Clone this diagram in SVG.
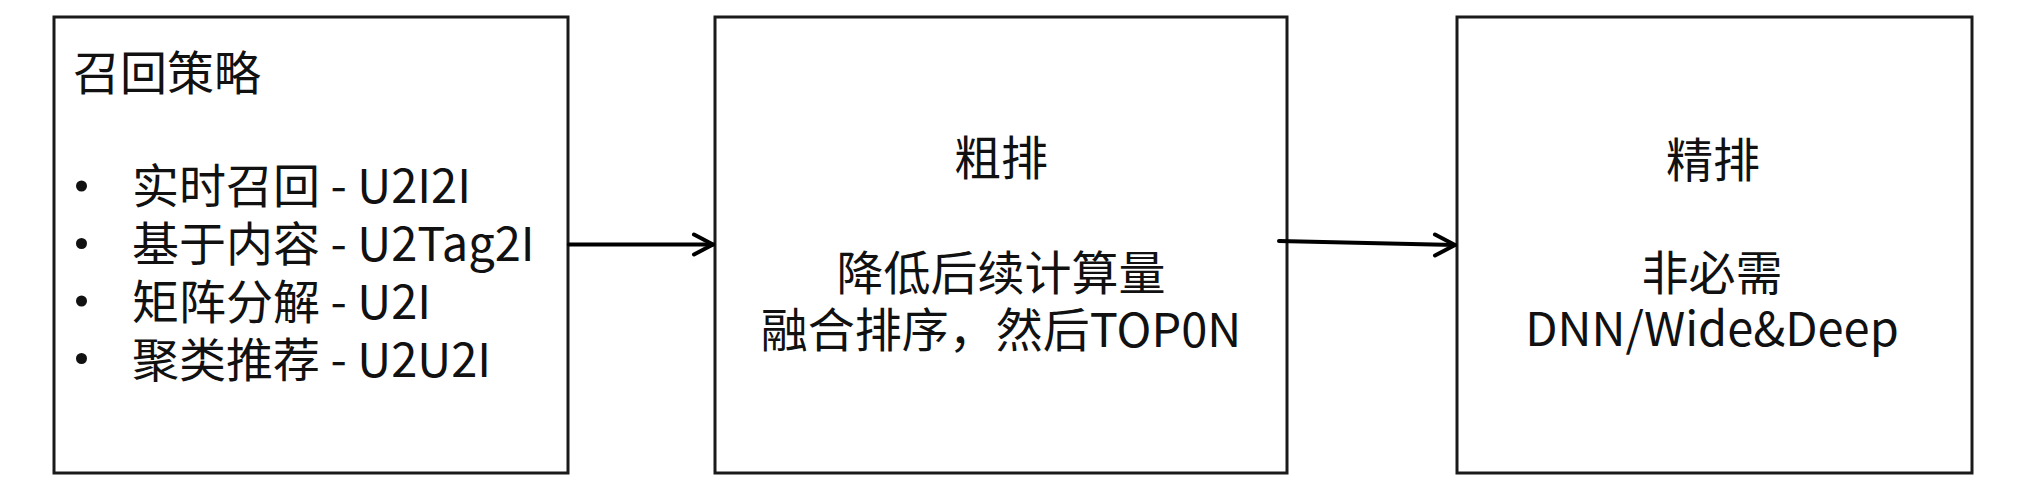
<svg xmlns="http://www.w3.org/2000/svg" width="2025" height="498" viewBox="0 0 2025 498">
  <style>
    .box { fill: #ffffff; stroke: #1a1a1a; stroke-width: 3; }
    .t { font-family: "Noto Sans CJK SC", "Noto Sans", sans-serif; font-size: 47px; fill: #111111; }
    .c { text-anchor: middle; }
    .conn { stroke: #000000; stroke-width: 4; fill: none; stroke-linecap: round; stroke-linejoin: round; }
    .bullet { fill: #111111; }
  </style>
  <rect width="2025" height="498" fill="#ffffff"/>

  <g id="recall">
    <rect class="box" x="54" y="17" width="514" height="456"/>
    <text class="t" x="73" y="90">召回策略</text>
    <circle class="bullet" cx="81.5" cy="186" r="5.5"/>
    <circle class="bullet" cx="81.5" cy="243.5" r="5.5"/>
    <circle class="bullet" cx="81.5" cy="301" r="5.5"/>
    <circle class="bullet" cx="81.5" cy="358.5" r="5.5"/>
    <text class="t" x="132" y="203">实时召回 - U2I2I</text>
    <text class="t" x="132" y="261">基于内容 - U2Tag2I</text>
    <text class="t" x="132" y="319">矩阵分解 - U2I</text>
    <text class="t" x="132" y="377">聚类推荐 - U2U2I</text>
  </g>

  <g id="coarse">
    <rect class="box" x="715" y="17" width="572" height="456"/>
    <text class="t c" x="1001" y="175">粗排</text>
    <text class="t c" x="1001" y="290">降低后续计算量</text>
    <text class="t c" x="1001" y="347">融合排序，然后TOP0N</text>
  </g>

  <g id="fine">
    <rect class="box" x="1457" y="17" width="515" height="456"/>
    <text class="t c" x="1713" y="177">精排</text>
    <text class="t c" x="1712" y="290">非必需</text>
    <text class="t c" x="1712" y="346">DNN/Wide&amp;Deep</text>
  </g>

  <g id="connectors">
    <line class="conn" x1="569" y1="244.5" x2="713" y2="244.5"/>
    <polyline class="conn" points="694,234.5 713,244.5 694,254.5"/>
    <line class="conn" x1="1279" y1="241" x2="1455" y2="245"/>
    <polyline class="conn" points="1435,234.5 1455,245 1435,255.5"/>
  </g>
</svg>
